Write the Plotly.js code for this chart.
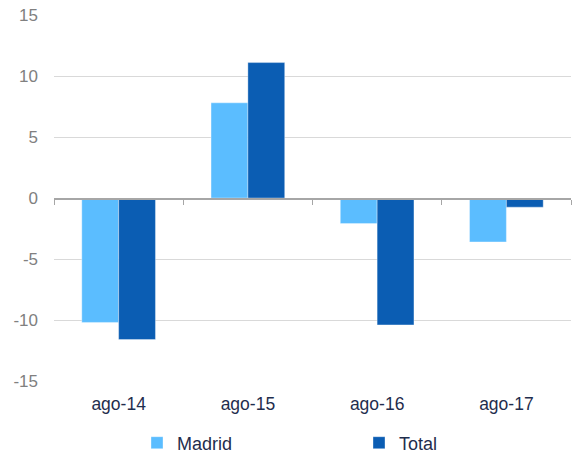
<!DOCTYPE html>
<html>
<head>
<meta charset="utf-8">
<script src="https://cdn.plot.ly/plotly-3.0.1.min.js"></script>
<style>html,body{margin:0;padding:0;background:#fff;}#chart{width:574px;height:454px;}</style>
</head>
<body>
<div id="chart"></div>
<script>
const categories = ["ago-14", "ago-15", "ago-16", "ago-17"];
const madrid = [-10.2, 7.8, -2.1, -3.6];
const total = [-11.6, 11.1, -10.4, -0.75];
const yTicks = [-15, -10, -5, 0, 5, 10, 15];

const FONT = "Liberation Sans, Arial, sans-serif";

const traces = [
  {
    type: "bar", name: "Madrid", x: categories, y: madrid, legend: "legend",
    marker: {color: "#5BBDFF", line: {color: "rgba(255,255,255,0.35)", width: 1}},
    hoverinfo: "x+y+name"
  },
  {
    type: "bar", name: "Total", x: categories, y: total, legend: "legend2",
    marker: {color: "#0B5DB3", line: {color: "rgba(255,255,255,0.35)", width: 1}},
    hoverinfo: "x+y+name"
  },
  {
    type: "scatter", mode: "none", x: categories, y: madrid,
    xaxis: "x2", yaxis: "y", showlegend: false, hoverinfo: "skip"
  }
];

const legendBase = {
  orientation: "h", xref: "container", yref: "container",
  xanchor: "left", yanchor: "middle", y: 1 - 443 / 454,
  font: {family: FONT, size: 18, color: "#1F2D4D"},
  bgcolor: "rgba(0,0,0,0)", borderwidth: 0, itemwidth: 30,
  entrywidth: 130, entrywidthmode: "pixels"
};

const layout = {
  width: 574, height: 454,
  margin: {l: 54, r: 3, t: 15, b: 73, autoexpand: false},
  paper_bgcolor: "#ffffff", plot_bgcolor: "#ffffff",
  font: {family: FONT, size: 17, color: "#1F2D4D"},
  barmode: "group",
  bargap: 0.43, bargroupgap: 0,
  showlegend: true,
  legend: Object.assign({}, legendBase, {x: 137 / 574}),
  legend2: Object.assign({}, legendBase, {x: 359 / 574}),
  xaxis: {
    type: "category", categoryorder: "array", categoryarray: categories,
    range: [-0.5, 3.5],
    showline: false, showgrid: false, zeroline: false, ticks: "",
    tickfont: {family: FONT, size: 17.5, color: "#1F2D4D"},
    ticklabelstandoff: 10, fixedrange: true
  },
  xaxis2: {
    type: "category", categoryorder: "array", categoryarray: categories,
    overlaying: "x", anchor: "free", position: 0.5, matches: "x",
    showline: true, linecolor: "#A6A6A6", linewidth: 1.5,
    ticks: "outside", tickson: "boundaries", ticklen: 5, tickwidth: 1, tickcolor: "#A6A6A6",
    showticklabels: false, showgrid: false, zeroline: false
  },
  yaxis: {
    range: [-15, 15], tickvals: yTicks, ticktext: yTicks.map(String),
    showgrid: true, gridcolor: "#D9D9D9", gridwidth: 1,
    zeroline: false, showline: false, ticks: "",
    tickfont: {family: FONT, size: 17, color: "#808080"},
    ticklabelstandoff: 15, fixedrange: true
  }
};

Plotly.newPlot("chart", traces, layout, {displayModeBar: false, staticPlot: true});
</script>
</body>
</html>
